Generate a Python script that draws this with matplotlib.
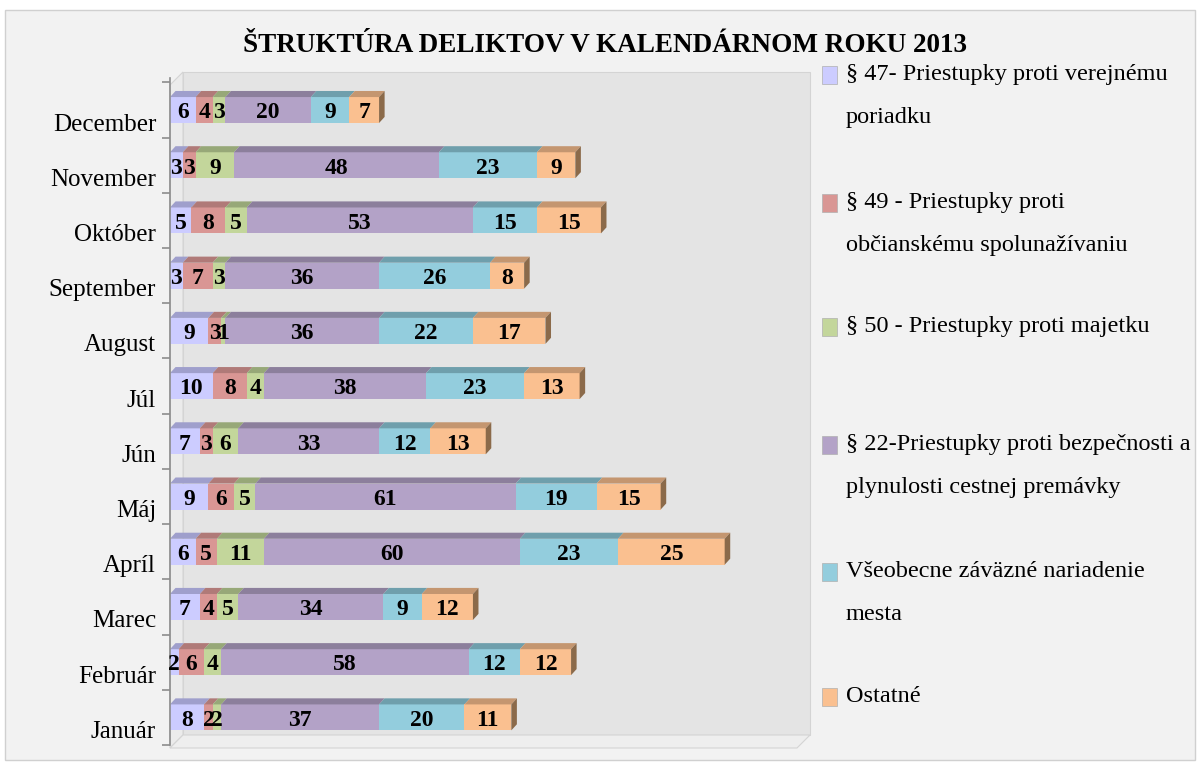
import matplotlib.pyplot as plt
from matplotlib.patches import Polygon, Rectangle
import matplotlib.transforms as mtransforms

# Data (bottom to top as drawn)
months = ['Január', 'Február', 'Marec', 'Apríl', 'Máj', 'Jún', 'Júl',
          'August', 'September', 'Október', 'November', 'December']
par47 = [8, 2, 7, 6, 9, 7, 10, 9, 3, 5, 3, 6]
par49 = [2, 6, 4, 5, 6, 3, 8, 3, 7, 8, 3, 4]
par50 = [2, 4, 5, 11, 5, 6, 4, 1, 3, 5, 9, 3]
par22 = [37, 58, 34, 60, 61, 33, 38, 36, 36, 53, 48, 20]
vzn = [20, 12, 9, 23, 19, 12, 23, 22, 26, 15, 23, 9]
ostatne = [11, 12, 12, 25, 15, 13, 13, 17, 8, 15, 9, 7]

series = [par47, par49, par50, par22, vzn, ostatne]
names = ['§ 47- Priestupky proti verejnému\nporiadku',
         '§ 49 - Priestupky proti\nobčianskému spolunažívaniu',
         '§ 50 - Priestupky proti majetku',
         '§ 22-Priestupky proti bezpečnosti a\nplynulosti cestnej premávky',
         'Všeobecne záväzné nariadenie\nmesta',
         'Ostatné']
face_cols = ['#ccccff', '#d99694', '#c3d69b', '#b3a2c7', '#93cddd', '#fac090']
top_cols = ['#9f9fcc', '#b07a78', '#97a878', '#8c7f9c', '#6f9fac', '#c49670']
end_col = '#8b6a4a'

plt.rcParams['font.family'] = ['Liberation Serif', 'DejaVu Serif']

W, H = 1198, 763
fig = plt.figure(figsize=(W / 100, H / 100), dpi=100)
fig.patch.set_facecolor('white')

def px(x0, y0, x1, y1):
    # pixel box (top-left origin) -> figure fraction rect
    return [x0 / W, 1 - y1 / H, (x1 - x0) / W, (y1 - y0) / H]

def fp(pts):
    return [(x / W, 1 - y / H) for x, y in pts]

# outer panel
fig.patches.append(Rectangle((5 / W, 1 - 760 / H), 1190 / W, 750 / H,
                             transform=fig.transFigure, facecolor='#f2f2f2',
                             edgecolor='#d0d0d0', lw=1, zorder=-3))
# back wall, side wall, floor
fig.patches.append(Polygon(fp([(183, 72), (810, 72), (810, 735), (183, 735)]),
                           closed=True, transform=fig.transFigure,
                           facecolor='#e4e4e4', edgecolor='#d4d4d4', lw=0.8, zorder=-2))
fig.patches.append(Polygon(fp([(170, 85), (183, 72), (183, 735), (170, 748)]),
                           closed=True, transform=fig.transFigure,
                           facecolor='#ebebeb', edgecolor='#d4d4d4', lw=0.8, zorder=-2))
fig.patches.append(Polygon(fp([(170, 748), (183, 735), (810, 735), (797, 748)]),
                           closed=True, transform=fig.transFigure,
                           facecolor='#eeeeee', edgecolor='#d4d4d4', lw=0.8, zorder=-2))

ax = fig.add_axes(px(170, 78, 810, 745))
ax.set_facecolor('none')
ax.set_xlim(0, 150)
ax.set_ylim(-0.5, 11.58)

h = 0.47
dx, dy = 1.3, 0.11
n = len(months)
left = [0] * n
for si, vals in enumerate(series):
    ax.barh(range(n), vals, left=left, height=h, color=face_cols[si],
            edgecolor='none', zorder=2)
    for i in range(n):
        x0, x1 = left[i], left[i] + vals[i]
        yt = i + h / 2
        ax.add_patch(Polygon([(x0, yt), (x1, yt), (x1 + dx, yt + dy), (x0 + dx, yt + dy)],
                             closed=True, facecolor=top_cols[si], edgecolor='none', zorder=2))
        if si == len(series) - 1:
            yb = i - h / 2
            ax.add_patch(Polygon([(x1, yb), (x1, yt), (x1 + dx, yt + dy), (x1 + dx, yb + dy)],
                                 closed=True, facecolor=end_col, edgecolor='none', zorder=2))
        ax.text((x0 + x1) / 2, i - 0.05, str(vals[i]), ha='center', va='center',
                fontsize=17, fontweight='bold', color='black', zorder=3)
    left = [l + v for l, v in zip(left, vals)]

# axes styling
for s in ['top', 'right', 'bottom']:
    ax.spines[s].set_visible(False)
ax.spines['left'].set_color('#8c8c8c')
ax.spines['left'].set_linewidth(1.2)
ax.set_xticks([])
ax.set_yticks([i + 0.5 for i in range(-1, n)])
ax.set_yticklabels([])
ax.tick_params(axis='y', which='major', length=6, color='#8c8c8c', width=1.2)
ax.set_yticks(range(n), minor=True)
ax.set_yticklabels(months, minor=True, fontsize=18)
ax.tick_params(axis='y', which='minor', length=0, pad=10)
off = mtransforms.ScaledTranslation(0, -12 / 100, fig.dpi_scale_trans)
for lab in ax.get_yticklabels(minor=True):
    lab.set_transform(lab.get_transform() + off)

# title
fig.text(605 / W, 1 - 45 / H, 'ŠTRUKTÚRA DELIKTOV V KALENDÁRNOM ROKU 2013',
         ha='center', va='center', fontsize=19.5, fontweight='bold')

# legend
leg_y = [75, 203, 327, 445, 572, 697]
for si in range(len(series)):
    y = leg_y[si]
    fig.patches.append(Rectangle((822 / W, 1 - (y + 9) / H), 15 / W, 18 / H,
                                 transform=fig.transFigure, facecolor=face_cols[si],
                                 edgecolor='#b0b0b0', lw=0.5))
    fig.text(846 / W, 1 - (y - 11) / H, names[si], ha='left', va='top',
             fontsize=17.5, linespacing=2.4)

fig.savefig('out.png', dpi=100)
